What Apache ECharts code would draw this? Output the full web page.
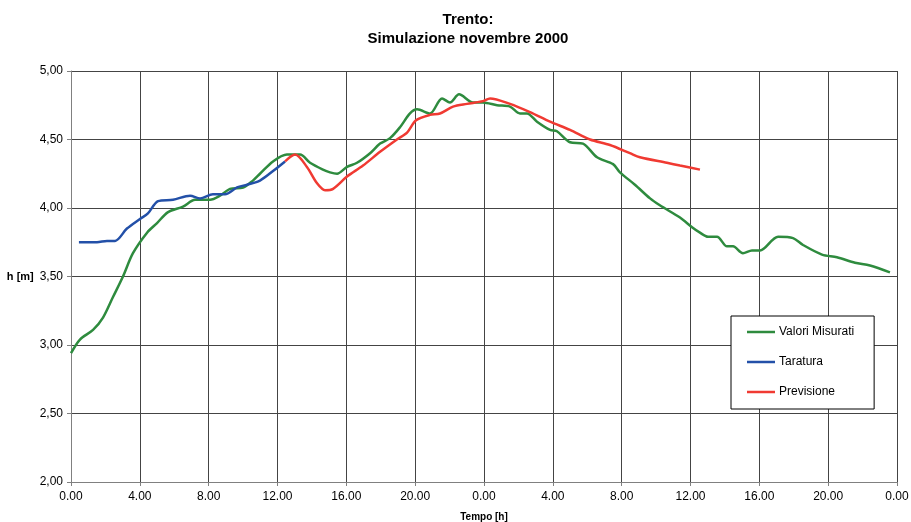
<!DOCTYPE html>
<html>
<head>
<meta charset="utf-8">
<script src="https://cdn.jsdelivr.net/npm/echarts@6/dist/echarts.min.js"></script>
<style>html,body{margin:0;padding:0;background:#fff}#c{width:911px;height:522px}</style>
</head>
<body>
<div id="c"></div>
<script>
// Tempo [h] (0..48) and h [m] values
const measuredHours = [0, 0.52, 1.28, 1.86, 2.44, 3.02, 3.60, 4.42, 5.00, 5.64, 6.51, 7.21, 8.08, 8.66, 9.24, 10.0, 10.57, 10.98, 11.74, 12.55, 13.31, 13.89, 14.64, 15.05, 15.46, 16.04, 16.62, 17.38, 17.96, 18.54, 19.12, 19.70, 20.11, 20.86, 21.56, 22.02, 22.55, 23.36, 23.94, 24.76, 25.51, 26.09, 26.50, 27.08, 27.84, 28.24, 29.00, 29.75, 30.57, 31.50, 31.90, 32.77, 33.65, 34.22, 35.39, 36.09, 36.55, 37.02, 37.54, 38.12, 38.47, 39.05, 39.57, 40.04, 41.09, 41.96, 42.54, 43.64, 44.51, 45.56, 46.43, 47.59];
const measuredValues = [2.94, 3.04, 3.11, 3.20, 3.35, 3.50, 3.67, 3.82, 3.89, 3.97, 4.01, 4.06, 4.06, 4.09, 4.14, 4.15, 4.20, 4.25, 4.34, 4.39, 4.39, 4.33, 4.28, 4.26, 4.25, 4.30, 4.33, 4.40, 4.47, 4.51, 4.59, 4.69, 4.72, 4.69, 4.80, 4.77, 4.83, 4.77, 4.77, 4.75, 4.74, 4.69, 4.69, 4.63, 4.57, 4.56, 4.48, 4.47, 4.37, 4.32, 4.26, 4.17, 4.07, 4.02, 3.93, 3.86, 3.82, 3.79, 3.79, 3.72, 3.72, 3.67, 3.69, 3.69, 3.79, 3.78, 3.73, 3.66, 3.64, 3.60, 3.58, 3.53];

const calibHours = [0.46, 1.51, 2.09, 2.56, 3.25, 4.01, 4.47, 5.06, 5.93, 6.92, 7.50, 8.25, 8.95, 9.65, 10.23, 10.98, 11.74, 12.44];
const calibValues = [3.75, 3.75, 3.76, 3.76, 3.85, 3.92, 3.96, 4.05, 4.06, 4.09, 4.07, 4.10, 4.10, 4.15, 4.17, 4.20, 4.27, 4.34];

const forecastHours = [12.44, 13.02, 13.71, 14.30, 14.76, 15.23, 16.04, 16.97, 17.96, 18.94, 19.53, 20.05, 20.86, 21.44, 22.20, 23.01, 23.94, 24.35, 25.51, 26.67, 27.84, 29.00, 30.16, 31.32, 32.48, 33.06, 34.63, 35.39, 36.55];
const forecastValues = [4.34, 4.39, 4.30, 4.18, 4.13, 4.14, 4.23, 4.31, 4.41, 4.50, 4.55, 4.64, 4.68, 4.69, 4.74, 4.76, 4.78, 4.80, 4.76, 4.70, 4.63, 4.57, 4.50, 4.46, 4.40, 4.37, 4.33, 4.31, 4.28];

const seriesNames = ['Valori Misurati', 'Taratura', 'Previsione'];
const titleLines = ['Trento:', 'Simulazione novembre 2000'];

const zip = (a, b) => a.map((x, i) => [x, b[i]]);
const font = '"Liberation Sans", Arial, sans-serif';

const chart = echarts.init(document.getElementById('c'));
chart.setOption({
  animation: false,
  backgroundColor: '#fff',
  title: {
    text: titleLines.join('\n'),
    left: 463, top: 5, textAlign: 'center',
    textStyle: { fontFamily: font, fontSize: 15, fontWeight: 'bold', color: '#000', lineHeight: 19 }
  },
  grid: { left: 71, right: 14, top: 71, bottom: 40, containLabel: false, outerBoundsMode: 'none' },
  legend: {
    orient: 'vertical', left: 731, top: 316,
    padding: [10, 20, 11, 16], itemGap: 18, itemWidth: 28, itemHeight: 14,
    icon: 'path://M0,6 L28,6 L28,8.5 L0,8.5 Z',
    backgroundColor: '#fff', borderColor: '#000', borderWidth: 1, borderRadius: 0,
    textStyle: { fontFamily: font, fontSize: 12, color: '#000', padding: [0, 0, 0, -1] },
    data: seriesNames
  },
  xAxis: {
    type: 'value', min: 0, max: 48, interval: 4,
    name: 'Tempo [h]', nameLocation: 'middle', nameGap: 30,
    nameTextStyle: { fontFamily: font, fontSize: 10, fontWeight: 'bold', color: '#000' },
    axisLine: { lineStyle: { color: '#808080', width: 1 } },
    axisTick: { show: true, length: 4, lineStyle: { color: '#808080' } },
    axisLabel: { fontFamily: font, fontSize: 12, color: '#000', margin: 9,
      formatter: v => (v % 24).toFixed(2) },
    splitLine: { show: true, lineStyle: { color: '#444', width: 1 } }
  },
  yAxis: {
    type: 'value', min: 2, max: 5, interval: 0.5,
    name: 'h [m]', nameLocation: 'middle', nameRotate: 0, nameGap: 34,
    nameTextStyle: { fontFamily: font, fontSize: 11, fontWeight: 'bold', color: '#000', align: 'right' },
    axisLine: { show: true, lineStyle: { color: '#808080', width: 1 } },
    axisTick: { show: true, length: 4, lineStyle: { color: '#808080' } },
    axisLabel: { fontFamily: font, fontSize: 12, color: '#000', margin: 8,
      formatter: v => v.toFixed(2).replace('.', ',') },
    splitLine: { show: true, lineStyle: { color: '#444', width: 1 } }
  },
  series: [
    { name: seriesNames[0], type: 'line', data: zip(measuredHours, measuredValues), smooth: 0.3,
      symbol: 'none', lineStyle: { color: '#2E8B3E', width: 2.5 }, itemStyle: { color: '#2E8B3E' }, z: 3 },
    { name: seriesNames[1], type: 'line', data: zip(calibHours, calibValues), smooth: 0.3,
      symbol: 'none', lineStyle: { color: '#2350A8', width: 2.5 }, itemStyle: { color: '#2350A8' }, z: 4 },
    { name: seriesNames[2], type: 'line', data: zip(forecastHours, forecastValues), smooth: 0.3,
      symbol: 'none', lineStyle: { color: '#F03A32', width: 2.5 }, itemStyle: { color: '#F03A32' }, z: 5 }
  ]
});
</script>
</body>
</html>
